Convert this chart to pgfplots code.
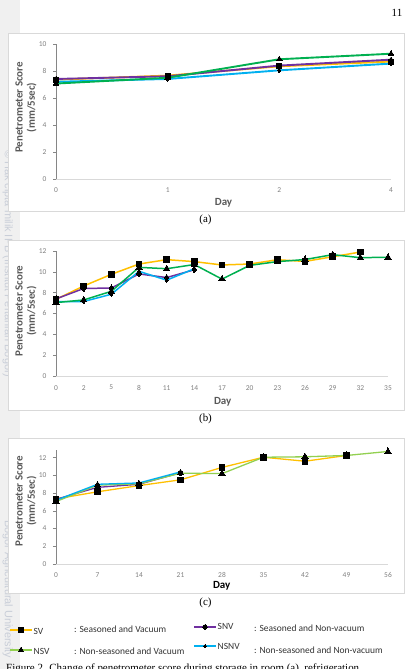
\documentclass[border=0pt]{standalone}
\usepackage{pgfplots}
\pgfplotsset{compat=1.18}
\usepackage{fontspec}
\setmainfont{Liberation Serif}
\newfontfamily\calibri{Carlito}
\newfontfamily\wmfont{Liberation Sans}

\definecolor{svcol}{HTML}{FFC000}
\definecolor{snvcol}{HTML}{7030A0}
\definecolor{nsvcol}{HTML}{00B050}
\definecolor{nsvlight}{HTML}{92D050}
\definecolor{nsnvcol}{HTML}{00B0F0}
\definecolor{axisgray}{HTML}{868686}
\definecolor{framegray}{HTML}{D9D9D9}
\definecolor{ticktext}{HTML}{808080}
\definecolor{labeltext}{HTML}{595959}
\definecolor{legendtext}{HTML}{333333}
\definecolor{wmcol}{HTML}{C9CED8}

\tikzset{keytext/.style={font=\calibri\fontsize{9.5}{11}\selectfont, text=legendtext,
    anchor=west, inner sep=0pt}}

\pgfplotsset{
  penchart/.style={
    scale only axis,
    axis x line=bottom, axis y line=left,
    x axis line style={draw=framegray, line width=0.8pt, -},
    y axis line style={draw=axisgray, line width=0.6pt, -},
    xtick style={draw=none},
    ytick style={draw=axisgray, line width=0.6pt},
    tick align=outside, major tick length=3bp,
    ymin=0,
    tick label style={font=\calibri\fontsize{7.5}{9}\selectfont, text=ticktext},
    /pgf/number format/assume math mode=true,
    yticklabel style={xshift=-3bp},
    ylabel={Penetrometer Score\\(mm/5sec)},
    ylabel style={align=center, anchor=center,
      font=\calibri\bfseries\fontsize{11}{12.5}\selectfont, text=labeltext},
    xlabel={Day},
    xlabel style={anchor=center, font=\calibri\bfseries\fontsize{11}{13}\selectfont, text=labeltext},
    clip=false,
  },
  sv/.style={draw=svcol, line width=#1, mark=square*, mark size=2.8bp,
    mark options={fill=black, draw=black, line width=0pt}},
  snv/.style={draw=snvcol, line width=#1, mark=diamond*, mark size=3bp,
    mark options={fill=black, draw=black, line width=0pt}},
  nsv/.style={draw=nsvcol, line width=#1, mark=triangle*, mark size=3.6bp,
    mark options={fill=black, draw=black, line width=0pt}},
  nsnv/.style={draw=nsnvcol, line width=#1, mark=diamond*, mark size=2.2bp,
    mark options={fill=black, draw=black, line width=0pt}},
}

\begin{document}
\begin{tikzpicture}
\path[use as bounding box] (0,0) rectangle (405bp,-669bp);
\clip (0,0) rectangle (405bp,-669bp);
\fill[white] (0,0) rectangle (405bp,-669bp);
\fill[black!6] (0,0) rectangle (20bp,-669bp);

% faint margin watermark
\node[rotate=-90, anchor=north west, font=\wmfont\fontsize{11}{12}\selectfont, text=wmcol, inner sep=0pt]
  at (13bp,-150bp) {\copyright\ Hak cipta milik IPB (Institut Pertanian Bogor)};
\node[rotate=-90, anchor=north west, font=\wmfont\fontsize{11}{12}\selectfont, text=wmcol, inner sep=0pt]
  at (13bp,-520bp) {Bogor Agricultural University};

% page number
\node[font=\fontsize{11}{13}\selectfont, anchor=center] at (397bp,-13bp) {11};

% chart frames
\filldraw[fill=white, draw=framegray, line width=0.6pt] (8.5bp,-33bp) rectangle (404.5bp,-211bp);
\filldraw[fill=white, draw=framegray, line width=0.6pt] (8.5bp,-240bp) rectangle (404.5bp,-410bp);
\filldraw[fill=white, draw=framegray, line width=0.6pt] (8.5bp,-438bp) rectangle (404.5bp,-593bp);

% (a) room temperature
\begin{axis}[penchart,
  at={(56bp,-179bp)}, anchor=south west,
  width=335bp, height=135bp,
  xmin=0, xmax=3, ymax=10,
  xtick={0,1,2,3}, xticklabels={0,1,2,4},
  ytick={0,2,4,6,8,10},
  xticklabel style={anchor=center, yshift=-8.3bp},
  ylabel style={at={(axis description cs:-0.0896,0.53)}},
  xlabel style={at={(axis description cs:0.5,-0.178)}},
]
\addplot[sv=1.9pt, mark size=2.5bp] coordinates {(0,7.36) (1,7.66) (2,8.35) (3,8.70)};
\addplot[snv=1.9pt, mark size=2.6bp] coordinates {(0,7.41) (1,7.61) (2,8.40) (3,8.84)};
\addplot[nsnv=1.9pt, mark size=2.2bp] coordinates {(0,7.20) (1,7.41) (2,8.05) (3,8.55)};
\addplot[nsv=1.9pt, mark size=3.2bp] coordinates {(0,7.07) (1,7.50) (2,8.87) (3,9.28)};
\end{axis}
\node[font=\fontsize{11}{13}\selectfont] at (205.5bp,-220bp) {(a)};

% (b) refrigeration
\begin{axis}[penchart,
  at={(56bp,-376bp)}, anchor=south west,
  width=332bp, height=125bp,
  xmin=0, xmax=12, ymax=12,
  xtick={0,...,12}, xticklabels={0,2,5,8,11,14,17,20,23,26,29,32,35},
  ytick={0,2,4,6,8,10,12},
  xticklabel style={anchor=center, yshift=-8.6bp},
  ylabel style={at={(axis description cs:-0.0904,0.52)}},
  xlabel style={at={(axis description cs:0.502,-0.21)}},
]
\addplot[sv=1.5pt] coordinates {(0,7.36) (1,8.64) (2,9.76) (3,10.75) (4,11.17) (5,10.98)
  (6,10.66) (7,10.75) (8,11.16) (9,11.00) (10,11.45) (11,11.90)};
\addplot[snv=1.5pt] coordinates {(0,7.40) (1,8.40) (2,8.45) (3,9.80) (4,9.45) (5,10.20)};
\addplot[nsnv=1.5pt] coordinates {(0,7.15) (1,7.15) (2,7.85) (3,10.05) (4,9.20) (5,10.30)};
\addplot[nsv=1.5pt] coordinates {(0,7.05) (1,7.30) (2,8.13) (3,10.43) (4,10.30) (5,10.70)
  (6,9.30) (7,10.62) (8,10.98) (9,11.18) (10,11.65) (11,11.36) (12,11.40)};
\end{axis}
\node[font=\fontsize{11}{13}\selectfont] at (205.5bp,-419bp) {(b)};

% (c) frozen storage
\begin{axis}[penchart,
  at={(56bp,-564bp)}, anchor=south west,
  width=332bp, height=114.3bp,
  xmin=0, xmax=8, ymax=12.9,
  xtick={0,...,8}, xticklabels={0,7,14,21,28,35,42,49,56},
  ytick={0,2,4,6,8,10,12},
  xticklabel style={anchor=center, yshift=-7.6bp},
  ylabel style={at={(axis description cs:-0.0904,0.55)}},
  xlabel style={at={(axis description cs:0.499,-0.19)}, text=black},
]
\addplot[sv=1.3pt] coordinates {(0,7.35) (1,8.15) (2,8.85) (3,9.50) (4,10.90)
  (5,12.05) (6,11.60) (7,12.25)};
\addplot[snv=1.3pt] coordinates {(0,7.30) (1,8.65) (2,9.00) (3,10.30)};
\addplot[nsv=1.3pt, draw=nsvlight] coordinates {(0,7.05) (1,8.90) (2,9.05) (3,10.25)
  (4,10.20) (5,12.05) (6,12.10) (7,12.25) (8,12.70)};
\addplot[nsnv=1.3pt] coordinates {(0,7.20) (1,9.00) (2,9.15) (3,10.40)};
\end{axis}
\node[font=\fontsize{11}{13}\selectfont] at (205.5bp,-603bp) {(c)};

% shared key for the three panels, laid out in page units (y grows downward)
\begin{axis}[
  at={(0bp,-669bp)}, anchor=south west, scale only axis,
  width=405bp, height=669bp, xmin=0, xmax=405, ymin=0, ymax=669,
  y dir=reverse, hide axis, clip=false,
]
\addplot[sv=1.6pt, mark size=2.6bp, mark indices={2}] coordinates {(10,630) (21,630) (32,630)};
\addplot[nsv=1.6pt, draw=nsvlight, mark size=3bp, mark indices={2}] coordinates {(10,650) (21,650) (32,650)};
\addplot[snv=1.6pt, mark=*, mark size=2.3bp, mark indices={2}] coordinates {(194,627) (205,627) (216,627)};
\addplot[nsnv=1.6pt, mark=*, mark size=1.5bp, mark indices={2}] coordinates {(194,646) (205,646) (216,646)};
\node[keytext] at (axis cs:33.5,631) {SV};
\node[keytext] at (axis cs:74,629) {: Seasoned and Vacuum};
\node[keytext] at (axis cs:33.5,651) {NSV};
\node[keytext] at (axis cs:74,651) {: Non-seasoned and Vacuum};
\node[keytext] at (axis cs:217.5,626) {SNV};
\node[keytext] at (axis cs:254,628) {: Seasoned and Non-vacuum};
\node[keytext] at (axis cs:217.5,646) {NSNV};
\node[keytext] at (axis cs:254,650) {: Non-seasoned and Non-vacuum};
\end{axis}

% figure caption (continues below the page edge)
\node[anchor=north west, inner sep=0pt, font=\fontsize{11}{13}\selectfont]
  at (6bp,-664bp) {Figure 2. Change of penetrometer score during storage in room (a), refrigeration};
\end{tikzpicture}
\end{document}
